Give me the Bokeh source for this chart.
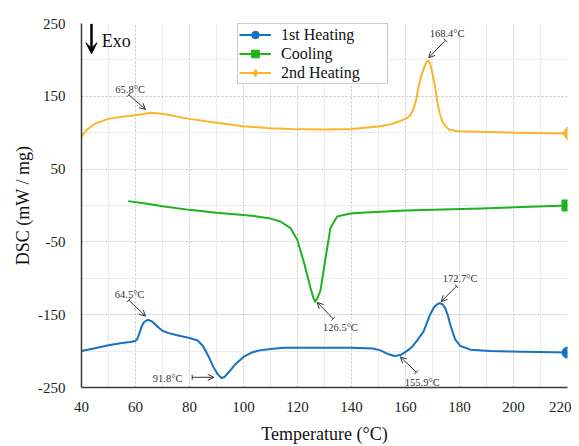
from bokeh.plotting import figure
from bokeh.models import (Arrow, VeeHead, TeeHead, OpenHead, Label, Legend, LegendItem,
                          FixedTicker, Range1d)
from bokeh.embed import file_html
from bokeh.resources import INLINE

# ---------------- data ----------------
heat1_x = [40, 45, 50, 55, 58, 60, 60.7, 61.5, 62.3, 63.2, 64.5, 66, 68, 70, 72, 75, 80, 83, 85,
           87, 89, 90.5, 91.8, 93, 95, 97, 100, 103, 106, 110, 115, 120, 130, 140, 148, 150.7,
           153.2, 155.9, 158.1, 160.5, 162.5, 164.2, 166.7, 169.1, 170.5, 171.6, 172.7, 173.8,
           174.7, 175.7, 176.6, 178.4, 180.3, 184, 191.4, 203.7, 220]
heat1_y = [-200, -196, -192, -189, -187.5, -186, -183, -175, -166, -160, -157, -159, -166, -172,
           -175, -178, -182, -185.5, -193, -207, -223, -232, -237, -235.5, -227, -218, -208,
           -202, -199, -197, -195.5, -195.5, -195.5, -195.5, -196.4, -199, -203.6, -206.8,
           -205.5, -200, -194, -186, -173, -150, -140, -136, -134, -136, -141, -151, -164, -184,
           -193, -198, -200, -201, -202]

cool_x = [57.3, 65, 70, 80, 90, 100, 105, 110, 113.7, 117.4, 119.9, 122.3, 124.8, 125.8, 126.5,
          127.3, 128.5, 130.4, 132.2, 134.7, 139.6, 143.3, 160, 187.8, 220]
cool_y = [6, 2, -1, -6, -10, -13, -15, -18, -22, -31, -47, -77, -113, -126, -132, -128, -117,
          -72, -31, -15, -11, -10, -7, -4, 0]

heat2_x = [40, 42, 45, 50, 55, 60, 65.8, 70, 80, 90, 100, 110, 117.4, 130, 140, 150, 155, 158,
           160, 161.8, 163, 164, 164.9, 166, 166.8, 167.6, 168.4, 169.2, 170, 171, 171.8, 172.7,
           173.7, 175, 176.2, 179.3, 190, 200, 220]
heat2_y = [95, 104, 112.5, 119, 122, 124, 127.5, 126, 119, 113.7, 109, 106, 105, 104.5, 105,
           108.5, 112, 116, 119, 124, 133, 146, 165, 180, 188, 196, 199, 194, 181, 162, 142, 126,
           115, 108, 104, 102, 101, 100, 99]

series_names = ["1st Heating", "Cooling", "2nd Heating"]
peak_labels = ["65.8°C", "168.4°C", "64.5°C", "91.8°C", "126.5°C", "155.9°C", "172.7°C"]
x_ticks = [40, 60, 80, 100, 120, 140, 160, 180, 200, 220]
y_ticks = [-250, -150, -50, 50, 150, 250]

# ---------------- styling / layout ----------------
FONT = "Liberation Serif"
C_BLUE = "#1672c4"
C_GREEN = "#1db31d"
C_ORANGE = "#fbb52b"

p = figure(width=571, height=446, x_range=Range1d(40, 220), y_range=Range1d(-250, 250),
           output_backend="svg", toolbar_location=None,
           min_border_left=81, min_border_right=4, min_border_top=23, min_border_bottom=59)
p.outline_line_color = None
p.background_fill_color = "white"

p.xaxis.ticker = FixedTicker(ticks=x_ticks, minor_ticks=[t + 10 for t in x_ticks[:-1]])
p.yaxis.ticker = FixedTicker(ticks=y_ticks, minor_ticks=[t + 50 for t in y_ticks[:-1]])
p.yaxis.major_label_overrides = {t: str(t) for t in y_ticks}

for g in (p.xgrid, p.ygrid):
    g.grid_line_color = "#c4c4c4"
    g.grid_line_dash = "2 2"
    g.grid_line_width = 1
    g.minor_grid_line_color = "#ececec"
    g.minor_grid_line_width = 1

for ax in (p.xaxis, p.yaxis):
    ax.axis_line_color = "#3a3a3a"
    ax.axis_line_width = 1.5
    ax.major_tick_line_color = None
    ax.minor_tick_line_color = None
    ax.major_tick_out = 0
    ax.major_tick_in = 0
    ax.major_label_text_font = FONT
    ax.major_label_text_font_size = "15px"
    ax.major_label_text_color = "#222222"
    ax.axis_label_text_font = FONT
    ax.axis_label_text_font_size = "18px"
    ax.axis_label_text_font_style = "normal"
    ax.axis_label_text_color = "#111111"

p.xaxis.axis_label = "Temperature (°C)"
p.yaxis.axis_label = "DSC (mW / mg)"
p.xaxis.major_label_standoff = 10
p.xaxis.axis_label_standoff = 9
p.yaxis.major_label_standoff = 12
p.yaxis.axis_label_standoff = 2

# ---------------- series ----------------
r1 = p.line(heat1_x, heat1_y, line_color=C_BLUE, line_width=2, line_join="round")
m1 = p.scatter([heat1_x[-1]], [heat1_y[-1]], marker="circle", size=11,
               fill_color=C_BLUE, line_color=C_BLUE)
r2 = p.line(cool_x, cool_y, line_color=C_GREEN, line_width=2, line_join="round")
m2 = p.scatter([cool_x[-1]], [cool_y[-1]], marker="square", size=11,
               fill_color=C_GREEN, line_color=C_GREEN)
r3 = p.line(heat2_x, heat2_y, line_color=C_ORANGE, line_width=2, line_join="round")
m3 = p.scatter([heat2_x[-1]], [heat2_y[-1]], marker="diamond", size=14,
               fill_color=C_ORANGE, line_color=C_ORANGE)

legend = Legend(items=[LegendItem(label=series_names[0], renderers=[r1, m1]),
                       LegendItem(label=series_names[1], renderers=[r2, m2]),
                       LegendItem(label=series_names[2], renderers=[r3, m3])],
                location=(156, 303), orientation="vertical")
legend.label_text_font = FONT
legend.label_text_font_size = "16px"
legend.label_text_color = "#111111"
legend.padding = 1
legend.spacing = 0
legend.glyph_width = 32
legend.glyph_height = 19
legend.label_height = 19
legend.label_standoff = 10
legend.label_width = 105
legend.margin = 0
legend.border_line_color = "#9a9a9a"
legend.border_line_width = 1
legend.background_fill_color = "white"
legend.background_fill_alpha = 1
p.add_layout(legend, "center")

# ---------------- annotations ----------------
# (text centre x, y, arrow tail x, y, arrow head x, y) for each peak label
ann_layout = [
    (58.0, 160, 57.5, 152, 63.7, 132),
    (175.4, 236, 174.8, 227, 168.6, 203),
    (57.8, -122, 57.5, -130, 63.7, -152),
    (71.9, -237.7, 81.0, -236, 89.0, -236),
    (135.9, -167.4, 133.2, -155.5, 127.3, -133),
    (166.2, -243, 164.0, -229, 158.1, -208),
    (180.2, -100.7, 178.9, -110.8, 173.2, -132),
]
for lab, (tx, ty, xs, ys, xe, ye) in zip(peak_labels, ann_layout):
    p.add_layout(Label(x=tx, y=ty, text=lab, text_font=FONT, text_font_size="10.5px",
                       text_color="#333333", text_align="center", text_baseline="middle"))
    p.add_layout(Arrow(x_start=xs, y_start=ys, x_end=xe, y_end=ye,
                       line_color="#333333", line_width=1,
                       start=TeeHead(size=5, line_color="#333333", line_width=1),
                       end=OpenHead(size=6, line_color="#333333", line_width=1)))

# "Exo" direction marker
p.add_layout(Arrow(x_start=43.7, y_start=249.5, x_end=43.7, y_end=208.5,
                   line_color="black", line_width=2.5,
                   end=VeeHead(size=11, fill_color="black", line_color="black", line_width=1)))
p.add_layout(Label(x=47.5, y=226.6, text="Exo", text_font=FONT, text_font_size="18px",
                   text_color="#111111", text_align="left", text_baseline="middle"))

open("out.html", "w").write(file_html(p, INLINE))
